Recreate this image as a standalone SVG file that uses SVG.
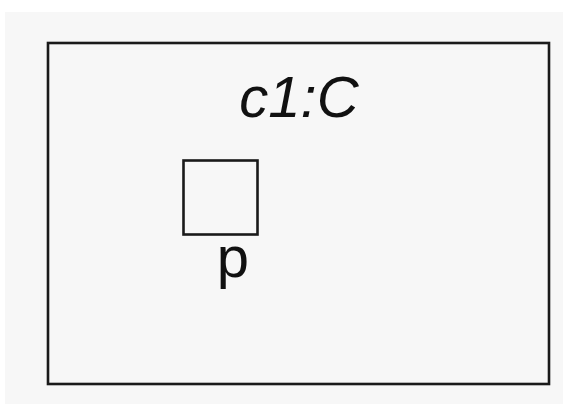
<svg xmlns="http://www.w3.org/2000/svg" width="563" height="406" viewBox="0 0 563 406">
  <style>
    .frame { fill: none; stroke: #1a1a1a; stroke-width: 2.6; }
    .label { font-family: "Liberation Sans", Arial, sans-serif; font-size: 58px; fill: #111; text-anchor: middle; }
  </style>
  <rect x="0" y="0" width="563" height="406" fill="#ffffff"/>
  <rect x="5" y="12" width="558" height="392" fill="#f7f7f7"/>
  <g id="c1">
    <rect class="frame" x="48" y="43" width="501" height="341"/>
    <text class="label" x="299" y="117" font-style="italic">c1:C</text>
  </g>
  <g id="p">
    <rect class="frame" x="183.5" y="160.5" width="74" height="74"/>
    <text class="label" x="233" y="277">p</text>
  </g>
  <g id="connectors"></g>
</svg>
